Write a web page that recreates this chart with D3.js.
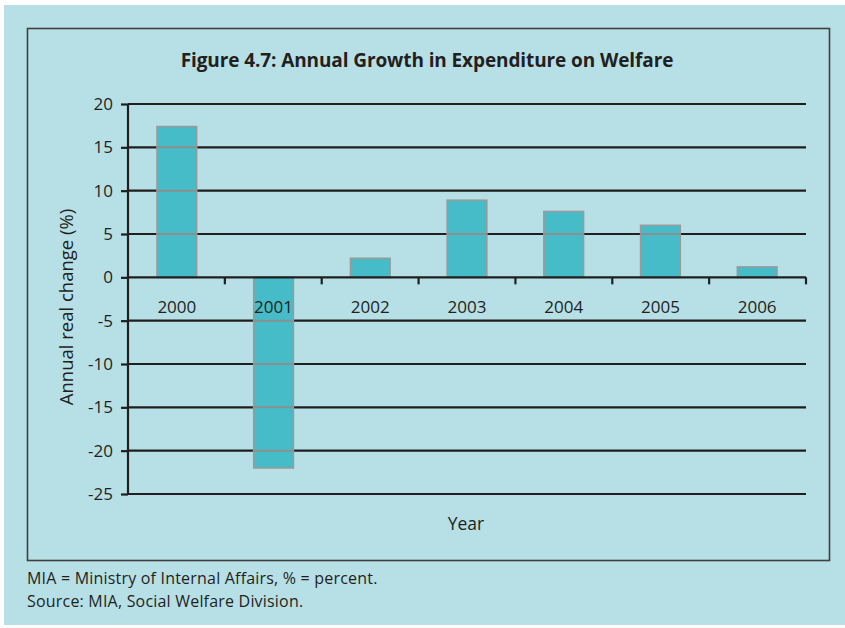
<!DOCTYPE html>
<html>
<head>
<meta charset="utf-8">
<script src="https://cdn.jsdelivr.net/npm/d3@7/dist/d3.min.js"></script>
<style>
  html, body { margin: 0; padding: 0; background: #ffffff; }
  svg { display: block; }
  text { font-family: "Open Sans", "Noto Sans", sans-serif; fill: #231f20; }
</style>
</head>
<body>
<script>
// Annual real change in welfare expenditure, by year (%)
const years = ["2000", "2001", "2002", "2003", "2004", "2005", "2006"];
const growth = [17.4, -22.0, 2.2, 8.9, 7.6, 6.0, 1.2];
const yTicks = [20, 15, 10, 5, 0, -5, -10, -15, -20, -25];

const titleText = "Figure 4.7: Annual Growth in Expenditure on Welfare";
const yLabel = "Annual real change (%)";
const xLabel = "Year";
const notes = ["MIA = Ministry of Internal Affairs, % = percent.",
               "Source: MIA, Social Welfare Division."];

(function () {
const W = 845, H = 628;
const svg = d3.select("body").append("svg").attr("width", W).attr("height", H);

// page panel and framed chart box
svg.append("rect").attr("x", 4).attr("y", 5).attr("width", W - 4).attr("height", 620)
  .attr("fill", "#b7e0e6");
svg.append("rect").attr("x", 27.5).attr("y", 28.5).attr("width", 802).attr("height", 532)
  .attr("fill", "none").attr("stroke", "#3f3f3f").attr("stroke-width", 1.6);

const pLeft = 128, pRight = 806, pTop = 104, pBottom = 494;

const x = d3.scaleBand().domain(years).range([pLeft, pRight]).paddingInner(0.59).paddingOuter(0.30);
const y = d3.scaleLinear().domain([-25, 20]).range([pBottom, pTop]);

// title
svg.append("text").attr("x", 427).attr("y", 67).attr("text-anchor", "middle")
  .style("font-weight", "bold")
  .style("font-size", "19px").style("letter-spacing", "-0.1px")
  .text(titleText);

// horizontal gridlines (behind bars)
svg.append("g").selectAll("line").data(yTicks.filter(d => d !== 0)).join("line")
  .attr("x1", pLeft).attr("x2", pRight)
  .attr("y1", d => y(d)).attr("y2", d => y(d))
  .attr("stroke", "#1f1f1f").attr("stroke-width", 2.2);

// bars
const barData = years.map((yr, i) => ({ yr, v: growth[i] }));
svg.append("g").selectAll("rect").data(barData)
  .join("rect")
  .attr("x", d => x(d.yr))
  .attr("width", x.bandwidth())
  .attr("y", d => y(Math.max(0, d.v)))
  .attr("height", d => Math.abs(y(d.v) - y(0)))
  .attr("fill", "#45bcc8").attr("stroke", "#9a9a9a").attr("stroke-width", 1.6);

// gridlines showing through the bars in grey
const crossings = [];
barData.forEach(d => {
  yTicks.forEach(t => {
    if (t !== 0 && ((d.v > 0 && t > 0 && t < d.v) || (d.v < 0 && t < 0 && t > d.v))) crossings.push({ yr: d.yr, t });
  });
});
svg.append("g").selectAll("line").data(crossings).join("line")
  .attr("x1", d => x(d.yr)).attr("x2", d => x(d.yr) + x.bandwidth())
  .attr("y1", d => y(d.t)).attr("y2", d => y(d.t))
  .attr("stroke", "#8e8e8e").attr("stroke-width", 2);

// y axis (plain hyphen for negatives)
const yAxis = d3.axisLeft(y).tickValues(yTicks).tickSize(7).tickPadding(8).tickFormat(d => String(d));
const gy = svg.append("g").attr("transform", `translate(${pLeft},0)`).call(yAxis);
gy.select(".domain").attr("stroke", "#1f1f1f").attr("stroke-width", 2.2).attr("d", `M0,${pTop}V${pBottom}`);
gy.selectAll(".tick line").attr("stroke", "#1f1f1f").attr("stroke-width", 2.2);
gy.selectAll(".tick text").style("font-size", "17px").style("font-family", "'Open Sans', sans-serif")
  .attr("fill", "#231f20");

// zero line with evenly spaced category dividers
const x0 = svg.append("g");
x0.append("line").attr("x1", pLeft).attr("x2", pRight).attr("y1", y(0)).attr("y2", y(0))
  .attr("stroke", "#1f1f1f").attr("stroke-width", 2.2);
const div = (pRight - pLeft) / years.length;
x0.selectAll("line.div").data(d3.range(1, years.length + 1)).join("line").attr("class", "div")
  .attr("x1", k => pLeft + k * div).attr("x2", k => pLeft + k * div)
  .attr("y1", y(0)).attr("y2", y(0) + 7)
  .attr("stroke", "#1f1f1f").attr("stroke-width", 2.2);

// category labels
svg.append("g").selectAll("text").data(years).join("text")
  .attr("x", d => x(d) + x.bandwidth() / 2).attr("y", 313)
  .attr("text-anchor", "middle").style("font-size", "17px")
  .text(d => d);

// axis titles
svg.append("text").attr("transform", `translate(73,${(pTop + pBottom) / 2 + 8}) rotate(-90)`)
  .attr("text-anchor", "middle").style("font-size", "18.5px").text(yLabel);
svg.append("text").attr("x", 466).attr("y", 530).attr("text-anchor", "middle")
  .style("font-size", "17.5px").text(xLabel);

// footnotes
svg.append("g").selectAll("text").data(notes).join("text")
  .attr("x", 27).attr("y", (d, i) => 584 + i * 23)
  .style("font-size", "16px").style("letter-spacing", "0.2px").text(d => d);
})();
</script>
</body>
</html>
